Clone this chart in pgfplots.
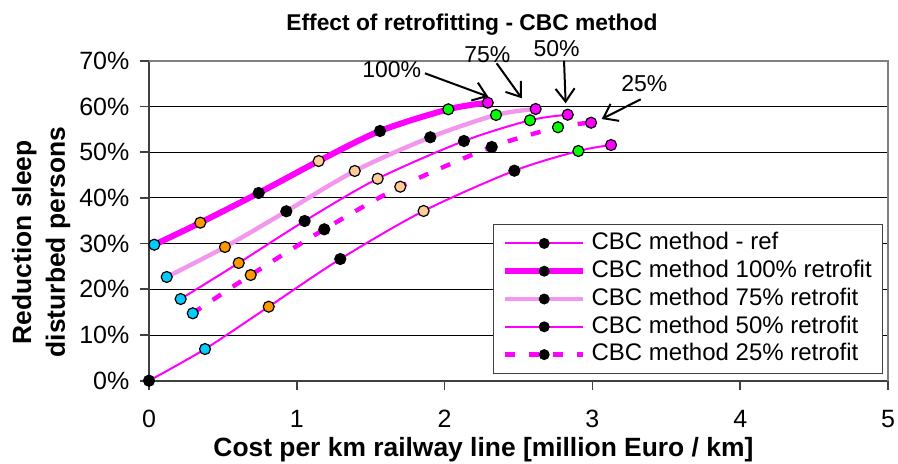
\documentclass[border=0pt]{standalone}
\usepackage{fontspec}
\setmainfont{Liberation Sans}
\usepackage{pgfplots}
\usepackage{pgfplotstable}
\pgfplotsset{compat=1.18}
\usetikzlibrary{arrows.meta}
\definecolor{mag}{RGB}{255,0,255}
\definecolor{lpink}{RGB}{242,150,238}
\definecolor{skyc}{RGB}{0,204,255}
\definecolor{orng}{RGB}{255,153,0}
\definecolor{peach}{RGB}{255,204,153}
\definecolor{grn}{RGB}{0,255,0}

\pgfplotstableread{
x y c
0 0 b
0.379 6.93 c
0.810 16.19 o
1.294 26.62 b
1.858 37.13 p
2.472 45.94 b
2.905 50.25 g
3.126 51.56 m
}\tref
\pgfplotstableread{
x y c
0.036 29.75 c
0.347 34.57 o
0.742 41.06 b
1.148 48.06 p
1.563 54.63 b
2.025 59.37 g
2.292 60.82 m
}\thun
\pgfplotstableread{
x y c
0.120 22.69 c
0.514 29.25 o
0.929 37.06 b
1.392 45.88 p
1.903 53.25 b
2.348 58.13 g
2.616 59.44 m
}\tsev
\pgfplotstableread{
x y c
0.214 17.87 c
0.607 25.75 o
1.053 34.94 b
1.547 44.19 p
2.131 52.44 b
2.578 56.97 g
2.833 58.19 m
}\tfif
\pgfplotstableread{
x y c
0.296 14.75 c
0.688 23.12 o
1.186 33.12 b
1.700 42.44 p
2.319 51.13 b
2.767 55.44 g
2.991 56.44 m
}\ttwf

\begin{document}
\begin{tikzpicture}
\begin{axis}[
  at={(0,0)}, anchor=south west,
  scale only axis, width=369.5pt, height=160pt,
  xmin=0, xmax=5, ymin=0, ymax=70,
  axis lines*=left,
  axis line style={-, black!75, line width=0.9pt},
  xtick={0,1,2,3,4,5}, ytick={0,10,20,30,40,50,60,70},
  tick align=outside, major tick length=4.5pt,
  tick style={black!75, line width=0.8pt},
  ymajorgrids, major grid style={black, line width=0.5pt},
  /pgf/number format/assume math mode=true,
  ticklabel style={font=\fontsize{12.5}{14}\selectfont},
  yticklabel={\pgfmathprintnumber{\tick}\%},
  xticklabel style={yshift=-6.8pt},
  yticklabel style={xshift=-1.8pt},
  clip=false,
  legend cell align=left,
  legend style={at={(axis cs:2.325,34.3)}, anchor=north west,
    font=\fontsize{12}{14}\selectfont, draw=black!75, line width=0.6pt,
    inner xsep=4.5pt, inner ysep=2.5pt, row sep=0pt,
    nodes={inner sep=0.9pt, text height=9.2pt, text depth=2.9pt},
    /tikz/every odd column/.append style={column sep=1.8pt}},
  legend image code/.code={
    \draw[#1] (0pt,0pt) -- (39pt,0pt);
    \path[fill=black, draw=none, solid, line width=0pt] (19.5pt,0pt) circle (2.75pt);},
]
\addplot[mag, line width=1pt, smooth, tension=0.5] table[x=x,y=y] {\tref};
\addlegendentry{CBC method - ref}
\addplot[mag, line width=3pt, smooth, tension=0.5] table[x=x,y=y] {\thun};
\addlegendentry{CBC method 100\% retrofit}
\addplot[lpink, line width=2.2pt, smooth, tension=0.5] table[x=x,y=y] {\tsev};
\addlegendentry{CBC method 75\% retrofit}
\addplot[mag, line width=1pt, smooth, tension=0.5] table[x=x,y=y] {\tfif};
\addlegendentry{CBC method 50\% retrofit}
\addplot[mag, line width=2.2pt, dash pattern=on 5pt off 7pt, smooth, tension=0.5] table[x=x,y=y] {\ttwf};
\addlegendentry{CBC method 25\% retrofit}

\pgfplotsset{markstyle/.style={only marks, scatter, scatter src=explicit symbolic,
  mark=*, mark size=2.75pt, mark options={draw=black, line width=0.6pt},
  scatter/classes={
    b={mark=*, draw=black, fill=black},
    c={mark=*, draw=black, fill=skyc},
    o={mark=*, draw=black, fill=orng},
    p={mark=*, draw=black, fill=peach},
    g={mark=*, draw=black, fill=grn},
    m={mark=*, draw=black, fill=mag}},
  forget plot}}
\addplot[markstyle] table[x=x,y=y,meta=c] {\tref};
\addplot[markstyle] table[x=x,y=y,meta=c] {\thun};
\addplot[markstyle] table[x=x,y=y,meta=c] {\tsev};
\addplot[markstyle] table[x=x,y=y,meta=c] {\tfif};
\addplot[markstyle] table[x=x,y=y,meta=c] {\ttwf};

% plot area border (top and right)
\draw[black!50, line width=1pt] (rel axis cs:0,1) -- (rel axis cs:1,1) -- (rel axis cs:1,0);

% annotations
\draw[line width=1pt, -{Straight Barb[length=6.5pt,width=9.5pt]}] (axis cs:1.867,67.25) -- (axis cs:2.296,62.13);
\node[font=\fontsize{11.5}{13}\selectfont] at (axis cs:1.642,68.0) {100\%};
\draw[line width=1pt, -{Straight Barb[length=6.5pt,width=9.5pt]}] (axis cs:2.352,69.44) -- (axis cs:2.522,61.78);
\node[font=\fontsize{11.5}{13}\selectfont] at (axis cs:2.289,71.25) {75\%};
\draw[line width=1pt, -{Straight Barb[length=6.5pt,width=9.5pt]}] (axis cs:2.808,70.0) -- (axis cs:2.819,60.69);
\node[font=\fontsize{11.5}{13}\selectfont] at (axis cs:2.758,72.72) {50\%};
\draw[line width=1pt, -{Straight Barb[length=6.5pt,width=9.5pt]}] (axis cs:3.327,61.56) -- (axis cs:3.063,57.25);
\node[font=\fontsize{11.5}{13}\selectfont] at (axis cs:3.351,65.06) {25\%};

% title and axis labels
\node[font=\fontsize{11.4}{13}\selectfont\bfseries, anchor=base] at (rel axis cs:0.437,1.093) {Effect of retrofitting - CBC method};
\node[font=\fontsize{13.2}{15}\selectfont\bfseries, anchor=base] at (rel axis cs:0.4525,-0.2353) {Cost per km railway line [million Euro / km]};
\node[rotate=90, align=center, font=\fontsize{13.2}{16.9}\selectfont\bfseries] at (rel axis cs:-0.146,0.433) {Reduction sleep\\disturbed persons};
\end{axis}
\pgfresetboundingbox
\path[use as bounding box] (-74.5pt,-41.15pt) rectangle (374.5pt,190.35pt);
\end{tikzpicture}
\end{document}
